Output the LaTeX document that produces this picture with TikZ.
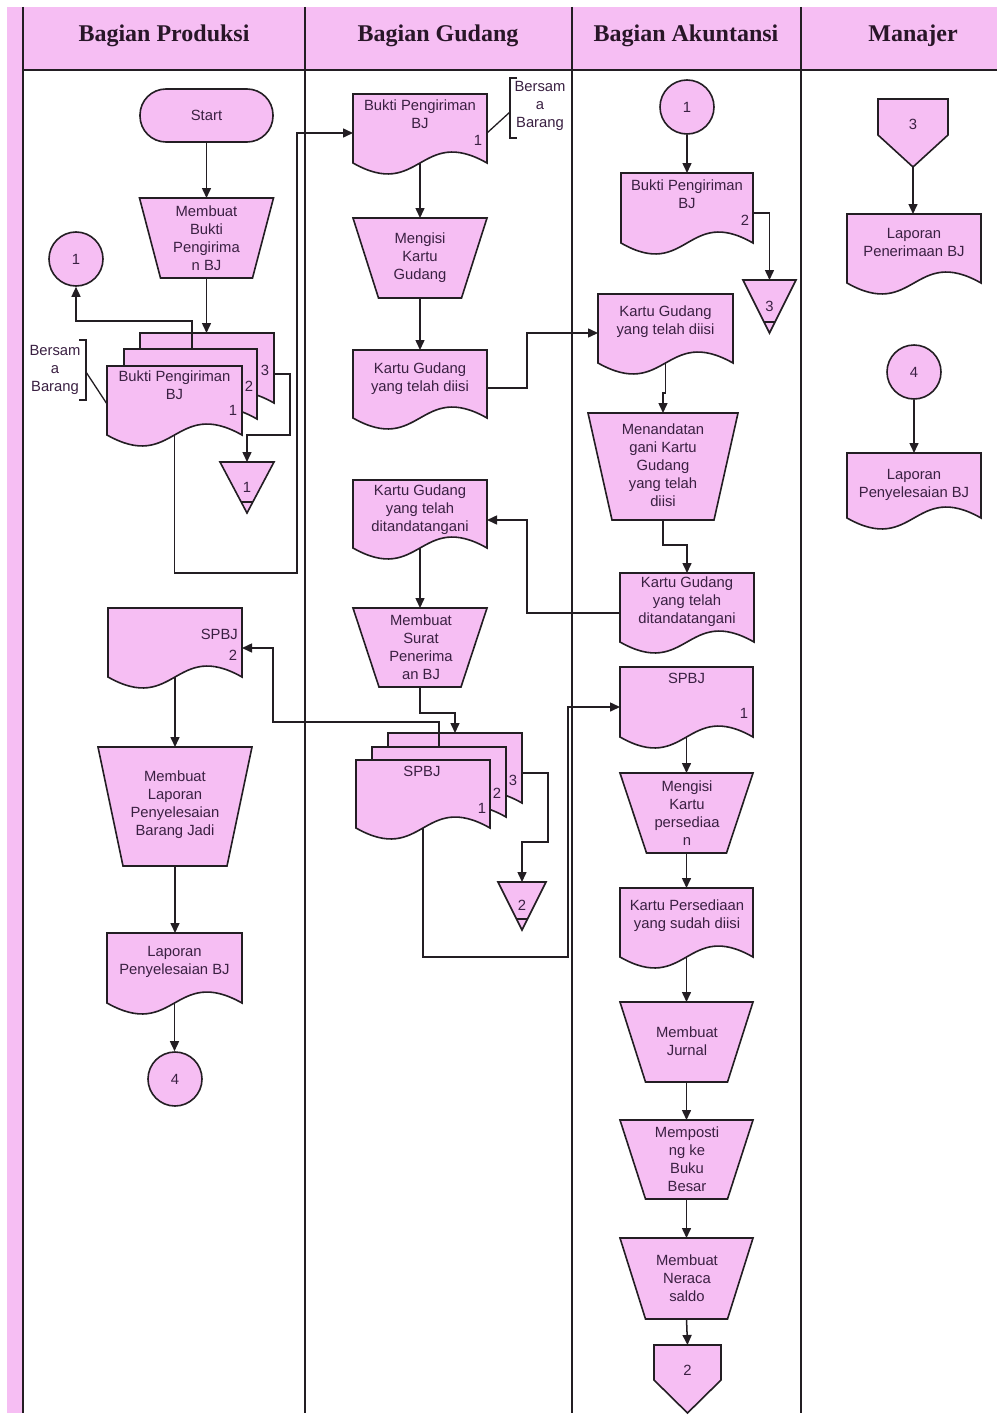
\documentclass[tikz,border=0pt]{standalone}
\usepackage{fontspec}
\setmainfont{Liberation Sans}
\newfontfamily\hdfont{Liberation Serif}
\usetikzlibrary{arrows.meta}
\definecolor{pinkf}{RGB}{246,190,243}
\definecolor{txtc}{RGB}{58,32,66}
\definecolor{linec}{RGB}{35,30,35}
\definecolor{hdc}{RGB}{40,22,40}
% document shape: name, x1, x2, top, bottom-of-sides
\newcommand\docsh[5]{%
  \draw[shp] (#2,#4) -- (#3,#4) -- (#3,#5) .. controls ({(#2+#3)/2},{#5-38}) and ({(#2+#3)/2},{#5+38}) .. (#2,#5) -- cycle;
  \node[box, minimum width={#3-#2}, minimum height={#5-#4}] (#1) at ({(#2+#3)/2},{(#4+#5)/2}) {};}
% manual operation: name, xc, ytop, half top width, half bottom width, ybottom
\newcommand\trapsh[6]{%
  \draw[shp] ({#2-#4},#3) -- ({#2+#4},#3) -- ({#2+#5},#6) -- ({#2-#5},#6) -- cycle;
  \node[box, minimum width={2*(#4)}, minimum height={#6-#3}] (#1) at (#2,{(#3+#6)/2}) {};}
% connector circle: name, x, y, text
\newcommand\circsh[4]{%
  \node[shp, circle, minimum size=54pt, txt] (#1) at (#2,#3) {#4};}
\begin{document}
\begin{tikzpicture}[x=1pt,y=-1pt,
  shp/.style={draw=linec, fill=pinkf, line width=1.6pt},
  box/.style={rectangle, draw=none, inner sep=0pt, outer sep=0pt},
  txt/.style={font=\fontsize{14.8}{18}\selectfont, align=center, text=txtc, inner sep=0pt},
  arr/.style={draw=linec, line width=1.5pt, -{Triangle[length=10pt,width=9pt]}},
  ln/.style={draw=linec, line width=1.3pt},
  lane/.style={draw=linec, line width=1.8pt},
  hd/.style={font=\hdfont\bfseries\fontsize{24}{28}\selectfont, text=hdc}]
\useasboundingbox (0,0) rectangle (998,1418);
\fill[white] (0,0) rectangle (998,1418);
% ---------- lanes ----------
\fill[pinkf] (7,7) rectangle (23,1413);
\fill[pinkf] (23,7) rectangle (997,70);
\draw[lane] (23,7) -- (23,1413);
\draw[lane] (305,7) -- (305,1413);
\draw[lane] (572,7) -- (572,1413);
\draw[lane] (801,7) -- (801,1413);
\draw[lane] (23,70) -- (997,70);
\node[hd] (h1) at (164,36) {Bagian Produksi};
\node[hd] (h2) at (438,36) {Bagian Gudang};
\node[hd] (h3) at (686,36) {Bagian Akuntansi};
\node[hd] (h4) at (913,36) {Manajer};
% ---------- Bagian Produksi ----------
\draw[shp, rounded corners=26pt] (140,89) rectangle (273,142);
\node[box, minimum width=133pt, minimum height=53pt, txt] (start) at (206.5,115.5) {Start};
\trapsh{mbukti}{206.5}{198}{67}{46}{278}
\node[txt] (mbukti-t) at (206.5,238) {Membuat\\Bukti\\Pengirima\\n BJ};
\circsh{conp1}{76}{259}{1}
\docsh{bpc}{140}{274}{333}{403}
\docsh{bpb}{124}{257}{349}{419}
\docsh{bpa}{107}{242}{366}{435}
\node[txt] (bpa-t) at (174.5,385) {Bukti Pengiriman\\BJ};
\node[txt] (bpc-n) at (265,370) {3};
\node[txt] (bpb-n) at (249,386) {2};
\node[txt] (bpa-n) at (233,410) {1};
\draw[ln] (79,340) -- (86,340) -- (86,400) -- (79,400);
\node[txt] (bers1) at (55,370) {Bersam\\a\\Barang};
\draw[shp] (220,462) -- (274,462) -- (247,513) -- cycle;
\draw[ln] (241.2,502) -- (252.8,502);
\node[box, minimum width=54pt, minimum height=51pt] (t1p) at (247,487.5) {};
\node[txt] (t1p-t) at (247,487) {1};
\docsh{dspbj2}{108}{242}{608}{677}
\node[txt, anchor=east] (dspbj2-t) at (238,634) {SPBJ};
\node[txt] (dspbj2-n) at (233,655) {2};
\trapsh{mlap}{175}{747}{77}{52}{866}
\node[txt] (mlap-t) at (175,805) {Membuat\\Laporan\\Penyelesaian\\Barang Jadi};
\docsh{dlapp}{107}{242}{933}{1003}
\node[txt] (dlapp-t) at (174.5,962) {Laporan\\Penyelesaian BJ};
\circsh{conp4}{175}{1079}{4}
% ---------- Bagian Gudang ----------
\docsh{dbuktig}{353}{487}{94}{163}
\node[txt] (dbuktig-t) at (420,114) {Bukti Pengiriman\\BJ};
\node[txt] (dbuktig-n) at (478,140) {1};
\draw[ln] (517,78) -- (510,78) -- (510,138) -- (517,138);
\node[txt] (bers2) at (540,106) {Bersam\\a\\Barang};
\trapsh{mkartug}{420}{218}{67}{41.5}{298}
\node[txt] (mkartug-t) at (420,258) {Mengisi\\Kartu\\Gudang};
\docsh{dkartug}{353}{487}{350}{418}
\node[txt] (dkartug-t) at (420,379) {Kartu Gudang\\yang telah diisi};
\docsh{dtandag}{353}{487}{480}{548}
\node[txt] (dtandag-t) at (420,510) {Kartu Gudang\\yang telah\\ditandatangani};
\trapsh{msurat}{420}{608}{67}{41}{687}
\node[txt] (msurat-t) at (421,647) {Membuat\\Surat\\Penerima\\an BJ};
\docsh{spc}{388}{522}{733}{803}
\docsh{spb}{372}{506}{747}{817}
\docsh{spa}{356}{490}{760}{828}
\node[txt] (spa-t) at (422,771) {SPBJ};
\node[txt] (spa-n) at (482,808) {1};
\node[txt] (spb-n) at (497,793) {2};
\node[txt] (spc-n) at (513,780) {3};
\draw[shp] (498,882) -- (546,882) -- (522,930) -- cycle;
\draw[ln] (516.5,919) -- (527.5,919);
\node[box, minimum width=48pt, minimum height=48pt] (t2g) at (522,906) {};
\node[txt] (t2g-t) at (522,905) {2};
% ---------- Bagian Akuntansi ----------
\circsh{cona1}{687}{107}{1}
\docsh{dbuktia}{621}{753}{173}{243}
\node[txt] (dbuktia-t) at (687,194) {Bukti Pengiriman\\BJ};
\node[txt] (dbuktia-n) at (745,220) {2};
\draw[shp] (743,280) -- (796,280) -- (769.5,333) -- cycle;
\draw[ln] (764,322) -- (775,322);
\node[box, minimum width=53pt, minimum height=53pt] (t3a) at (769.5,306.5) {};
\node[txt] (t3a-t) at (769.5,306) {3};
\docsh{dkartua}{598}{733}{294}{363}
\node[txt] (dkartua-t) at (665.5,322) {Kartu Gudang\\yang telah diisi};
\trapsh{mtanda}{663}{413}{75}{51}{520}
\node[txt] (mtanda-t) at (663,465) {Menandatan\\gani Kartu\\Gudang\\yang telah\\diisi};
\docsh{dtandaa}{620}{754}{573}{642}
\node[txt] (dtandaa-t) at (687,602) {Kartu Gudang\\yang telah\\ditandatangani};
\docsh{dspbj1}{620}{753}{667}{737}
\node[txt] (dspbj1-t) at (686.5,678) {SPBJ};
\node[txt] (dspbj1-n) at (744,713) {1};
\trapsh{mpersed}{686.5}{773}{66.5}{40}{853}
\node[txt] (mpersed-t) at (687,813) {Mengisi\\Kartu\\persediaa\\n};
\docsh{dpersed}{620}{753}{888}{957}
\node[txt] (dpersed-t) at (687,916) {Kartu Persediaan\\yang sudah diisi};
\trapsh{mjurnal}{686.5}{1002}{66.5}{41}{1082}
\node[txt] (mjurnal-t) at (687,1041) {Membuat\\Jurnal};
\trapsh{mpost}{686.5}{1120}{66.5}{41}{1199}
\node[txt] (mpost-t) at (687,1159) {Memposti\\ng ke\\Buku\\Besar};
\trapsh{mneraca}{686.5}{1238}{66.5}{41}{1319}
\node[txt] (mneraca-t) at (687,1278) {Membuat\\Neraca\\saldo};
\draw[shp] (654,1345) -- (721,1345) -- (721,1380) -- (687.5,1413) -- (654,1380) -- cycle;
\node[box, minimum width=67pt, minimum height=68pt] (op2a) at (687.5,1379) {};
\node[txt] (op2a-t) at (687.5,1370) {2};
% ---------- Manajer ----------
\draw[shp] (878,99) -- (948,99) -- (948,135) -- (913,167) -- (878,135) -- cycle;
\node[box, minimum width=70pt, minimum height=68pt] (op3m) at (913,133) {};
\node[txt] (op3m-t) at (913,124) {3};
\docsh{dlapterima}{847}{981}{214}{283}
\node[txt] (dlapterima-t) at (914,242) {Laporan\\Penerimaan BJ};
\circsh{conm4}{914}{372}{4}
\docsh{dlapselesai}{847}{981}{453}{518}
\node[txt] (dlapselesai-t) at (914,485) {Laporan\\Penyelesaian BJ};
% ---------- connectors ----------
\draw[arr] (start.south) -- (mbukti.north);
\draw[arr] (mbukti.south) -- (mbukti.south |- bpc.north);
\draw[arr] (bpb.north -| 192,0) |- (conp1.south |- 0,321) -- (conp1.south);
\draw[arr] (bpc.east |- 0,374) -- (290,374) |- (t1p.north |- 0,435) -- (t1p.north);
\draw[arr] (bpa.south) |- (297,573) |- (dbuktig.west |- 0,133);
\draw[ln] (86,372) -- (bpa.west |- 0,404);
\draw[ln] (dbuktig.east |- 0,133) -- (510,112);
\draw[arr] (dspbj2.south) -- (mlap.north);
\draw[arr] (mlap.south) -- (mlap.south |- dlapp.north);
\draw[arr] (dlapp.south) -- (dlapp.south |- conp4.north);
\draw[arr] (dbuktig.south) -- (mkartug.north);
\draw[arr] (mkartug.south) -- (dkartug.north);
\draw[arr] (dkartug.east |- 0,388) -| (527,333) -- (dkartua.west |- 0,333);
\draw[arr] (dtandaa.west |- 0,613) -| (527,520) -- (dtandag.east |- 0,520);
\draw[arr] (dtandag.south) -- (msurat.north);
\draw[arr] (msurat.south) |- (spc.north |- 0,713) -- (spc.north);
\draw[arr] (spb.north -| 439,0) |- (273,722) |- (dspbj2.east |- 0,648);
\draw[arr] (spc.east |- 0,773) -- (548,773) |- (t2g.north |- 0,842) -- (t2g.north);
\draw[arr] (spa.south) |- (568,957) |- (dspbj1.west |- 0,707);
\draw[arr] (cona1.south) -- (cona1.south |- dbuktia.north);
\draw[arr] (dbuktia.east |- 0,213) -| (t3a.north);
\draw[arr] (dkartua.south) -- (665.5,393) -- (663,393) -- (mtanda.north);
\draw[arr] (mtanda.south) |- (dtandaa.north |- 0,545) -- (dtandaa.north);
\draw[arr] (dspbj1.south) -- (mpersed.north);
\draw[arr] (mpersed.south) -- (dpersed.north);
\draw[arr] (dpersed.south) -- (mjurnal.north);
\draw[arr] (mjurnal.south) -- (mpost.north);
\draw[arr] (mpost.south) -- (mneraca.north);
\draw[arr] (mneraca.south) -- (op2a.north);
\draw[arr] (op3m.south) -- (op3m.south |- dlapterima.north);
\draw[arr] (conm4.south) -- (dlapselesai.north);
\end{tikzpicture}
\end{document}
